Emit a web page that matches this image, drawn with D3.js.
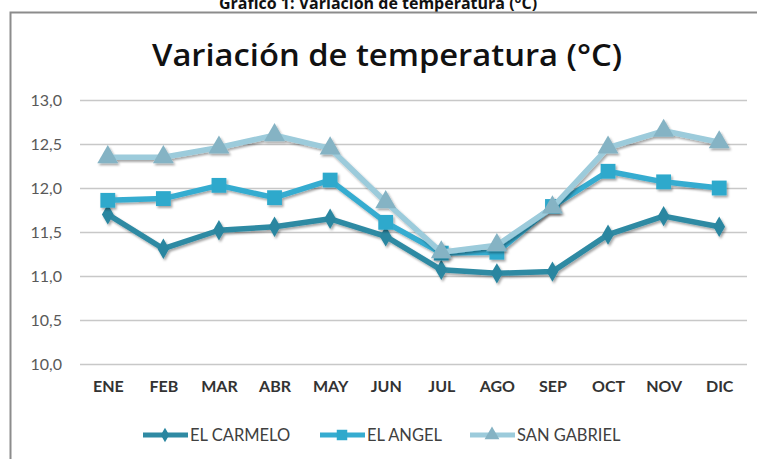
<!DOCTYPE html>
<html><head><meta charset="utf-8">
<script src="https://cdn.jsdelivr.net/npm/d3@7"></script>
<style>body{margin:0;background:#fff}svg{display:block}</style>
</head><body>
<svg id="c" width="757" height="459"></svg>
<script>
const months = ["ENE","FEB","MAR","ABR","MAY","JUN","JUL","AGO","SEP","OCT","NOV","DIC"];
const elCarmelo = [11.70,11.31,11.52,11.56,11.65,11.45,11.07,11.03,11.05,11.47,11.68,11.56];
const elAngel   = [11.86,11.88,12.03,11.89,12.09,11.61,11.26,11.27,11.79,12.19,12.07,12.00];
const sanGabriel= [12.35,12.35,12.46,12.60,12.45,11.84,11.27,11.35,11.78,12.46,12.65,12.52];
const yTicks = [10.0,10.5,11.0,11.5,12.0,12.5,13.0];
const seriesNames = ["EL CARMELO","EL ANGEL","SAN GABRIEL"];

const svg = d3.select("#c");
const font = "Lato, 'Open Sans', sans-serif";

// outer title (cut off at top, as in the reference)
svg.append("text").attr("x",378).attr("y",9).attr("text-anchor","middle")
  .attr("font-family","'Open Sans', sans-serif").attr("font-weight","bold").attr("font-size",16).attr("fill","#111")
  .text("Gráfico 1: Variación de temperatura (°C)");
// frame
svg.append("path").attr("d","M10.5,459 V12.5 H757").attr("fill","none").attr("stroke","#8c8c8c").attr("stroke-width",2);

svg.append("text").attr("x",387).attr("y",66).attr("text-anchor","middle")
  .attr("font-family","'Open Sans', sans-serif").attr("font-weight",600).attr("font-size",31)
  .attr("textLength",470).attr("lengthAdjust","spacingAndGlyphs").attr("fill","#111")
  .text("Variación de temperatura (°C)");

const x = d3.scalePoint().domain(months).range([80,747]).padding(0.5);
const y = d3.scaleLinear().domain([10,13]).range([364,100]);

const defs = svg.append("defs");
const f = defs.append("filter").attr("id","sh").attr("x","-50%").attr("y","-50%").attr("width","200%").attr("height","200%");
f.append("feDropShadow").attr("dx",1.5).attr("dy",2).attr("stdDeviation",1.2).attr("flood-color","#000").attr("flood-opacity",0.35);

// grid
svg.append("g").selectAll("line").data(yTicks).join("line")
  .attr("x1",80).attr("x2",747).attr("y1",d=>y(d)+0.5).attr("y2",d=>y(d)+0.5)
  .attr("stroke","#c8c8c8").attr("stroke-width",1.5);

// y axis
const yAxis = d3.axisLeft(y).tickValues(yTicks).tickSize(0).tickPadding(0)
  .tickFormat(d=>d3.format(".1f")(d).replace(".",","));
const gy = svg.append("g").attr("transform","translate(62,0)").call(yAxis);
gy.select(".domain").remove();
gy.selectAll("text").attr("font-family",font).attr("font-size",16).attr("fill","#595959");

// x axis
const xAxis = d3.axisBottom(x).tickSize(0).tickPadding(0);
const gx = svg.append("g").attr("transform","translate(0,381)").call(xAxis);
gx.select(".domain").remove();
gx.selectAll("text").attr("font-family",font).attr("font-size",16).attr("font-weight","bold").attr("fill","#333");

const colors = ["#2f8aa3","#36acd0","#9ccbdb"];
const markerFill = ["#2a86a0","#2fa9cc","#85b3c4"];
const data = [elCarmelo, elAngel, sanGabriel];
const line = d3.line().x((d,i)=>x(months[i])).y(d=>y(d));

const symbols = [d3.symbolDiamond, d3.symbolSquare, d3.symbolTriangle];
const sizes = [120, 220, 190];

data.forEach((vals,k)=>{
  const g = svg.append("g").attr("filter","url(#sh)");
  g.append("path").datum(vals).attr("d",line).attr("fill","none")
    .attr("stroke",colors[k]).attr("stroke-width",5.5).attr("stroke-linejoin","round");
  g.selectAll("path.m").data(vals).join("path").attr("class","m")
    .attr("transform",(d,i)=>`translate(${x(months[i])},${y(d)})`)
    .attr("d",d3.symbol().type(symbols[k]).size(sizes[k]))
    .attr("fill",markerFill[k]);
});

// legend
const lx = [143,320,470];
seriesNames.forEach((n,k)=>{
  const g = svg.append("g");
  g.append("line").attr("x1",lx[k]).attr("x2",lx[k]+45).attr("y1",435).attr("y2",435)
    .attr("stroke",colors[k]).attr("stroke-width",5);
  g.append("path").attr("transform",`translate(${lx[k]+22},435)`)
    .attr("d",d3.symbol().type(symbols[k]).size(sizes[k]*0.5)).attr("fill",markerFill[k]);
  g.append("text").attr("x",lx[k]+47).attr("y",441).attr("font-family",font).attr("font-size",16.5)
    .attr("fill","#404040").text(n);
});
</script>
</body></html>
